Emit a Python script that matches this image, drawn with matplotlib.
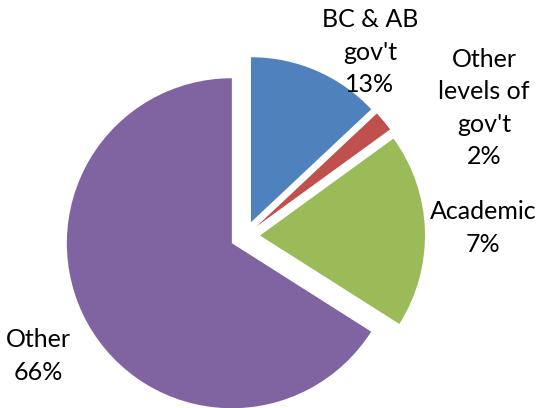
import matplotlib
matplotlib.use("Agg")
import matplotlib.pyplot as plt

# slice sizes as drawn, and the label text printed on the chart
categories = ["BC & AB\ngov't", "Other\nlevels of\ngov't", "Academic", "Other"]
shares = [13, 2, 19, 66]
pct_text = ["13%", "2%", "7%", "66%"]
colors = ["#4F81BD", "#C0504D", "#9BBB59", "#8064A2"]

# label anchor points in figure pixels (x, y from bottom)
label_pos = [(370, 356), (484, 300), (483, 180), (38, 52)]

fig = plt.figure(figsize=(5.38, 4.08), dpi=100)
ax = fig.add_axes([0, 0, 1, 1])

# explode is in data units here (pixels)
wedges, _ = ax.pie(shares, colors=colors, startangle=90, counterclock=False,
                   center=(245, 172), radius=165,
                   explode=[15] * len(shares),
                   wedgeprops=dict(linewidth=0))

# pie() resets the limits, so set pixel-like limits afterwards
ax.set_xlim(0, 538)
ax.set_ylim(0, 408)
ax.set_aspect("equal")
ax.axis("off")

for name, pct, (x, y) in zip(categories, pct_text, label_pos):
    ax.text(x, y, name + "\n" + pct, ha="center", va="center",
            fontsize=18, family="Lato", linespacing=1.5)

fig.savefig("out.png", dpi=100)
